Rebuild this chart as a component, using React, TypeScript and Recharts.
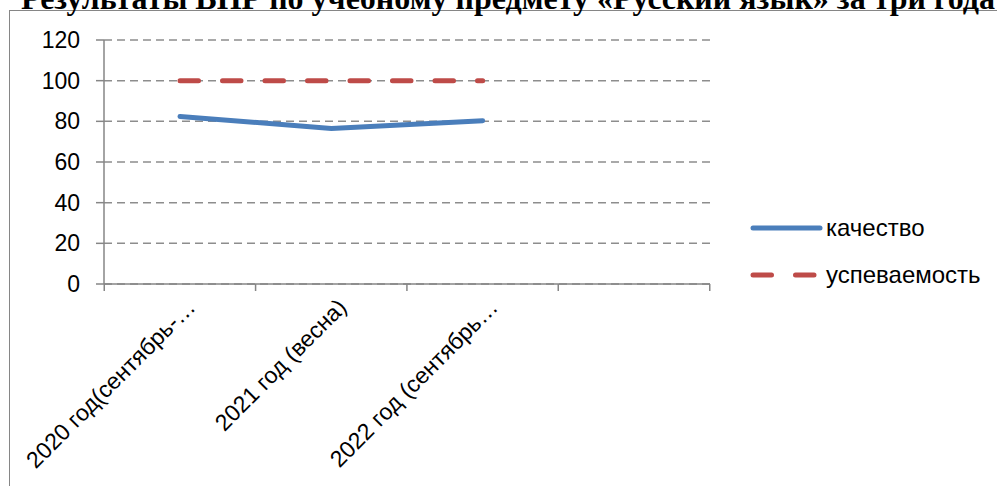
import React from 'react';
import { LineChart, Line, XAxis, YAxis, CartesianGrid } from 'recharts';

const title = 'Результаты ВПР по учебному предмету «Русский язык» за три года';
const categories = ['2020 год(сентябрь-…', '2021 год (весна)', '2022 год (сентябрь…', ''];
const quality: (number | null)[] = [82.4, 76.5, 80.3, null];
const progress: (number | null)[] = [100, 100, 100, null];
const yTicks = [0, 20, 40, 60, 80, 100, 120];
const seriesNames = ['качество', 'успеваемость'];

const data = categories.map((c, i) => ({ cat: c, q: quality[i], p: progress[i] }));

const FONT = '"Liberation Sans", Arial, sans-serif';
const AXIS = '#868686';
const BLUE = '#4a7ebb';
const RED = '#be4b48';

const XTick = (props: any) => {
  const { x, y, payload, index, width, visibleTicksCount } = props;
  const n = visibleTicksCount || categories.length;
  const step = width / n;
  const ax = x + 11;
  const ay = y + 19;
  return (
    <g>
      <line x1={x - step / 2} x2={x - step / 2} y1={y} y2={y + 7} stroke={AXIS} strokeWidth={1.5} />
      {index === n - 1 && (
        <line x1={x + step / 2} x2={x + step / 2} y1={y} y2={y + 7} stroke={AXIS} strokeWidth={1.5} />
      )}
      {payload.value ? (
        <text
          x={ax}
          y={ay}
          transform={`rotate(-45 ${ax} ${ay})`}
          textAnchor="end"
          dominantBaseline="central"
          fontFamily={FONT}
          fontSize={23}
          fill="#000"
        >
          {payload.value}
        </text>
      ) : null}
    </g>
  );
};

const LegendBox = () => (
  <div style={{ position: 'absolute', left: 750, top: 213, fontFamily: FONT, fontSize: 24, color: '#000' }}>
    <div style={{ display: 'flex', alignItems: 'center', height: 30 }}>
      <svg width={74} height={10}>
        <line x1={3} x2={70} y1={5} y2={5} stroke={BLUE} strokeWidth={5} strokeLinecap="round" />
      </svg>
      <span style={{ marginLeft: 2 }}>{seriesNames[0]}</span>
    </div>
    <div style={{ display: 'flex', alignItems: 'center', height: 30, marginTop: 17 }}>
      <svg width={74} height={10}>
        <line x1={3} x2={70} y1={5} y2={5} stroke={RED} strokeWidth={5} strokeLinecap="round" strokeDasharray="18.5 24" />
      </svg>
      <span style={{ marginLeft: 2 }}>{seriesNames[1]}</span>
    </div>
  </div>
);

export default function App() {
  return (
    <div style={{ position: 'absolute', left: 0, top: 0, width: 997, height: 486, overflow: 'hidden', background: '#fff' }}>
      <div
        style={{
          position: 'absolute',
          left: 9,
          top: 10,
          width: 1100,
          height: 600,
          border: `1.5px solid ${AXIS}`,
        }}
      />
      <div
        style={{
          position: 'absolute',
          left: 21,
          top: -17,
          whiteSpace: 'nowrap',
          fontFamily: '"Liberation Serif", "Times New Roman", serif',
          fontWeight: 'bold',
          fontSize: 32,
          lineHeight: '30px',
          color: '#000',
        }}
      >
        {title}
      </div>
      <div style={{ position: 'absolute', left: 0, top: 0 }}>
        <LineChart width={997} height={486} data={data} margin={{ top: 40, right: 287, left: 44, bottom: 0 }}>
          <CartesianGrid vertical={false} stroke="#8d8d8d" strokeWidth={1.5} strokeDasharray="8 5" />
          <XAxis
            dataKey="cat"
            scale="point"
            padding={{ left: 76, right: 76 }}
            height={202}
            interval={0}
            stroke={AXIS}
            strokeWidth={1.5}
            tickLine={false}
            tickSize={0}
            tickMargin={0}
            tick={<XTick />}
          />
          <YAxis
            domain={[0, 120]}
            ticks={yTicks}
            interval={0}
            width={60}
            stroke={AXIS}
            strokeWidth={1.5}
            tickSize={8}
            tickMargin={16}
            tick={{ fill: '#000', fontSize: 23, fontFamily: FONT }}
          />
          <Line
            type="linear"
            dataKey="q"
            name={seriesNames[0]}
            stroke={BLUE}
            strokeWidth={5}
            strokeLinecap="round"
            dot={false}
            activeDot={false}
            isAnimationActive={false}
          />
          <Line
            type="linear"
            dataKey="p"
            name={seriesNames[1]}
            stroke={RED}
            strokeWidth={5}
            strokeLinecap="round"
            strokeDasharray="18.5 24"
            dot={false}
            activeDot={false}
            isAnimationActive={false}
          />
        </LineChart>
      </div>
      <LegendBox />
    </div>
  );
}
